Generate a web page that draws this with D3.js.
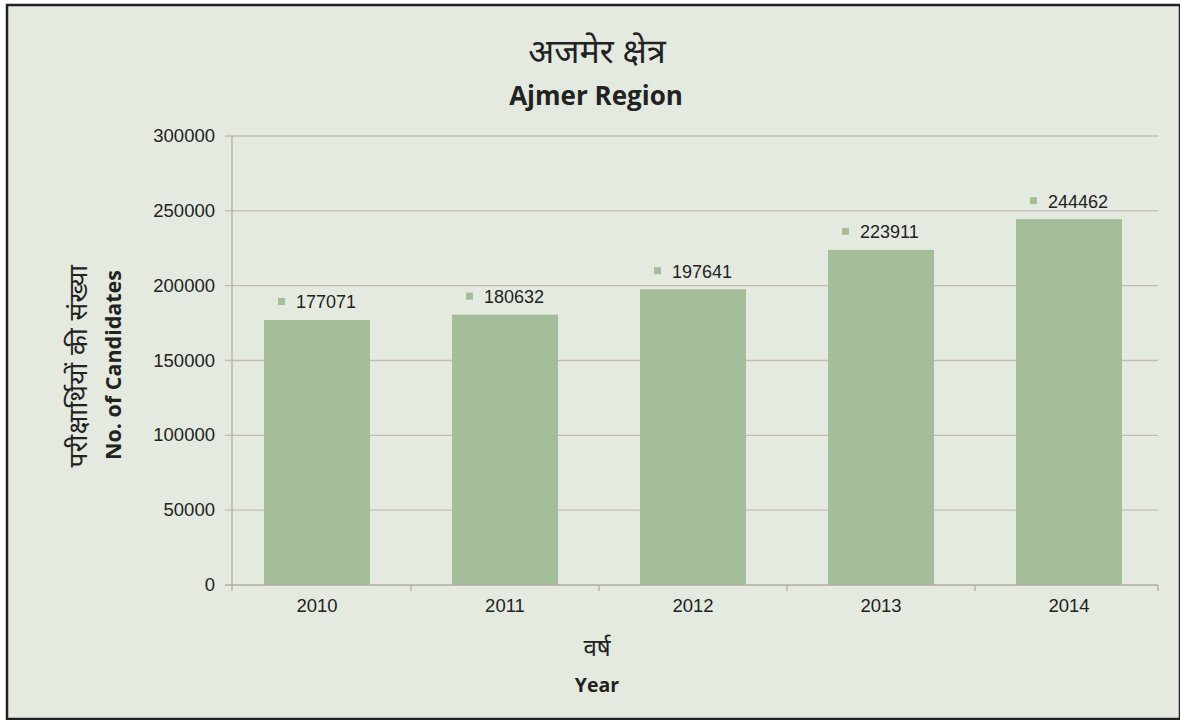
<!DOCTYPE html>
<meta charset="utf-8">
<head>
<script src="https://d3js.org/d3.v7.min.js"></script>
<style>
  body { margin: 0; background: #fff; }
  svg text { fill: #222; }
</style>
</head>
<body>
<div class="viz"></div>
<script>
// chart values
var years = ["2010", "2011", "2012", "2013", "2014"];
var candidates = [177071, 180632, 197641, 223911, 244462];
var yTicks = [0, 50000, 100000, 150000, 200000, 250000, 300000];

var titleHi = "अजमेर क्षेत्र",
    titleEn = "Ajmer Region",
    yTitleHi = "परीक्षार्थियों की संख्या",
    yTitleEn = "No. of Candidates",
    xTitleHi = "वर्ष",
    xTitleEn = "Year";

var width = 1180, height = 720;
var hindiFont = "'Noto Sans Devanagari', 'Noto Sans', sans-serif";
var boldFont = "'Open Sans', Lato, sans-serif";
var numFont = "'Liberation Sans', Arial, sans-serif";

var svg = d3.select("div.viz").append("svg")
    .attr("width", width)
    .attr("height", height);

// background + frame
svg.append("rect")
    .attr("x", 7).attr("y", 5)
    .attr("width", 1173).attr("height", 714)
    .style("fill", "#e4eadf")
    .style("stroke", "#222")
    .style("stroke-width", 2.5);

var x = d3.scaleBand().domain(years).range([223, 1163]).paddingInner(0.436).paddingOuter(0.218);
var y = d3.scaleLinear().domain([0, 300000]).range([585, 136]);

var axisLeft = 232, axisRight = 1158;

// gridlines
svg.selectAll("line.grid")
    .data(yTicks.slice(1))
    .enter().append("line")
    .attr("class", "grid")
    .attr("x1", axisLeft - 7).attr("x2", axisRight)
    .attr("y1", function(d) { return y(d); })
    .attr("y2", function(d) { return y(d); })
    .style("stroke", "#c4bab5")
    .style("stroke-width", 1.3);

// y axis line
svg.append("line")
    .attr("x1", axisLeft).attr("x2", axisLeft)
    .attr("y1", y(300000)).attr("y2", y(0))
    .style("stroke", "#b9a9a6").style("stroke-width", 1.3);

// y tick labels
svg.selectAll("text.ytick")
    .data(yTicks)
    .enter().append("text")
    .attr("class", "ytick")
    .attr("x", axisLeft - 17)
    .attr("y", function(d) { return y(d) + 6; })
    .attr("text-anchor", "end")
    .style("font-family", numFont)
    .style("font-size", "18.5px")
    .text(function(d) { return d; });

// bars
svg.selectAll("rect.bar")
    .data(candidates)
    .enter().append("rect")
    .attr("class", "bar")
    .attr("x", function(d, i) { return x(years[i]); })
    .attr("width", x.bandwidth())
    .attr("y", function(d) { return y(d); })
    .attr("height", function(d) { return y(0) - y(d); })
    .style("fill", "#a5be9a");

// x axis line and ticks
svg.append("line")
    .attr("x1", axisLeft - 7).attr("x2", axisRight)
    .attr("y1", y(0)).attr("y2", y(0))
    .style("stroke", "#b9a9a6").style("stroke-width", 1.3);

var step = x.step();
var tickXs = [axisLeft].concat(years.slice(1).map(function(d) { return x(d) - step * 0.218; })).concat([axisRight]);
svg.selectAll("line.xtick")
    .data(tickXs)
    .enter().append("line")
    .attr("class", "xtick")
    .attr("x1", function(d) { return d; }).attr("x2", function(d) { return d; })
    .attr("y1", y(0)).attr("y2", y(0) + 6)
    .style("stroke", "#b9a9a6").style("stroke-width", 1.3);

svg.selectAll("text.xlab")
    .data(years)
    .enter().append("text")
    .attr("class", "xlab")
    .attr("x", function(d) { return x(d) + x.bandwidth() / 2; })
    .attr("y", y(0) + 27)
    .attr("text-anchor", "middle")
    .style("font-family", numFont)
    .style("font-size", "18.5px")
    .text(function(d) { return d; });

// data labels with legend key square
var labels = svg.selectAll("g.dlabel")
    .data(candidates)
    .enter().append("g")
    .attr("class", "dlabel")
    .attr("transform", function(d, i) {
        return "translate(" + (x(years[i]) + x.bandwidth() / 2) + "," + (y(d) - 18) + ")";
    });
labels.append("rect")
    .attr("x", -39).attr("y", -4)
    .attr("width", 7).attr("height", 7)
    .style("fill", "#a5be9a");
labels.append("text")
    .attr("x", -21).attr("y", 6.5)
    .style("font-family", numFont)
    .style("font-size", "18px")
    .text(function(d) { return d; });

// titles
svg.append("text")
    .attr("x", 597).attr("y", 63)
    .attr("text-anchor", "middle")
    .style("font-family", hindiFont)
    .style("font-size", "34px")
    .text(titleHi);
svg.append("text")
    .attr("x", 596).attr("y", 105)
    .attr("text-anchor", "middle")
    .style("font-family", boldFont)
    .style("font-weight", "bold")
    .style("font-size", "26px")
    .text(titleEn);

// y axis titles
svg.append("text")
    .attr("transform", "translate(87,366) rotate(-90)")
    .attr("text-anchor", "middle")
    .style("font-family", hindiFont)
    .style("font-size", "26px")
    .style("letter-spacing", "0.5px")
    .text(yTitleHi);
svg.append("text")
    .attr("transform", "translate(121,365) rotate(-90)")
    .attr("text-anchor", "middle")
    .style("font-family", boldFont)
    .style("font-weight", "bold")
    .style("font-size", "21.5px")
    .text(yTitleEn);

// x axis titles
svg.append("text")
    .attr("x", 597).attr("y", 656)
    .attr("text-anchor", "middle")
    .style("font-family", hindiFont)
    .style("font-size", "24px")
    .text(xTitleHi);
svg.append("text")
    .attr("x", 597).attr("y", 692)
    .attr("text-anchor", "middle")
    .style("font-family", boldFont)
    .style("font-weight", "bold")
    .style("font-size", "19.5px")
    .text(xTitleEn);
</script>
</body>
